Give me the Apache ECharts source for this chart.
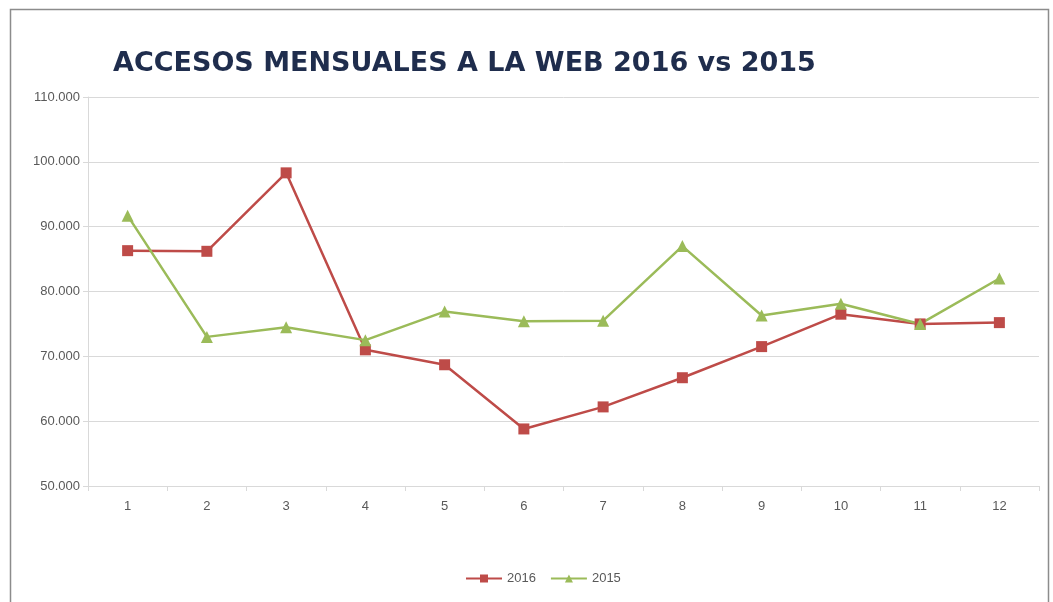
<!DOCTYPE html>
<html>
<head>
<meta charset="utf-8">
<script src="https://cdn.jsdelivr.net/npm/echarts@6/dist/echarts.min.js"></script>
<style>
html, body { margin: 0; padding: 0; background: #fff; }
#chart { width: 1053px; height: 602px; }
</style>
</head>
<body>
<div id="chart"></div>
<script>
var months = ['1','2','3','4','5','6','7','8','9','10','11','12'];
var accesos2016 = [86300, 86200, 98300, 71000, 68700, 58800, 62200, 66700, 71500, 76500, 75000, 75200];
var accesos2015 = [91700, 73000, 74500, 72500, 76900, 75400, 75500, 87000, 76300, 78100, 75000, 82000];

var chart = echarts.init(document.getElementById('chart'));

function fmtMiles(v){
	return Math.round(v/1000) + '.000';
}

var option = {
	animation: false,
	backgroundColor: '#fff',
	color: ['#be4b48', '#9bbb59'],
	title: {
		text: 'ACCESOS MENSUALES A LA WEB 2016 vs 2015',
		left: 108,
		top: 45,
		textStyle: {
			fontFamily: 'DejaVu Sans',
			fontWeight: 'bold',
			fontSize: 27,
			color: '#1f2d4d'
		}
	},
	graphic: [{
		type: 'rect',
		shape: { x: 10.5, y: 9.5, width: 1038, height: 620 },
		style: { fill: 'none', stroke: '#8c8c8c', lineWidth: 1.5 },
		silent: true
	}],
	legend: {
		data: ['2016', '2015'],
		bottom: 12,
		left: 460,
		itemWidth: 36,
		itemHeight: 10,
		itemGap: 14,
		textStyle: { color: '#595959', fontSize: 13, fontFamily: 'Liberation Sans' }
	},
	grid: { left: 88, right: 14, top: 97, bottom: 116 },
	xAxis: {
		type: 'category',
		data: months,
		boundaryGap: true,
		axisLine: { lineStyle: { color: '#d9d9d9' } },
		axisTick: { show: true, length: 5, lineStyle: { color: '#d9d9d9' } },
		axisLabel: { color: '#595959', fontSize: 13, fontFamily: 'Liberation Sans', margin: 14 }
	},
	yAxis: {
		type: 'value',
		min: 50000,
		max: 110000,
		interval: 10000,
		axisLine: { show: true, lineStyle: { color: '#d9d9d9' } },
		axisTick: { show: true, length: 5, lineStyle: { color: '#d9d9d9' } },
		splitLine: { lineStyle: { color: '#d9d9d9', width: 1 } },
		axisLabel: { color: '#595959', fontSize: 13, fontFamily: 'Liberation Sans', margin: 8, formatter: fmtMiles }
	},
	series: [
		{
			name: '2016',
			type: 'line',
			data: accesos2016,
			symbol: 'rect',
			symbolSize: 11,
			lineStyle: { width: 2.5, color: '#be4b48' },
			itemStyle: { color: '#be4b48' }
		},
		{
			name: '2015',
			type: 'line',
			data: accesos2015,
			symbol: 'triangle',
			symbolSize: 12,
			lineStyle: { width: 2.5, color: '#9bbb59' },
			itemStyle: { color: '#9bbb59' }
		}
	]
};
chart.setOption(option);
</script>
</body>
</html>
